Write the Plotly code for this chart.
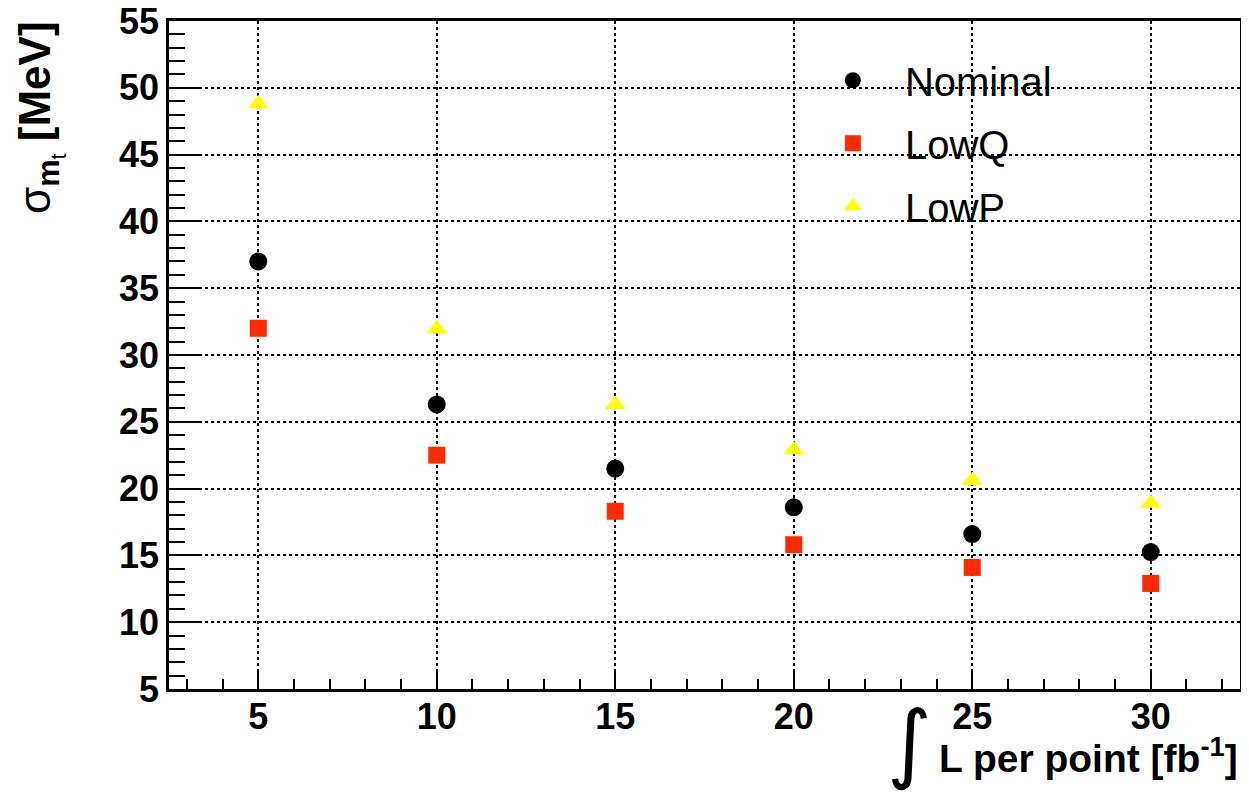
import plotly.graph_objects as go

lumi = [5, 10, 15, 20, 25, 30]
nominal = [37.0, 26.3, 21.5, 18.6, 16.6, 15.25]
lowq = [32.0, 22.5, 18.3, 15.8, 14.1, 12.9]
lowp = [48.8, 31.95, 26.3, 22.9, 20.6, 18.9]

x_ticks = [5, 10, 15, 20, 25, 30]
y_ticks = [5, 10, 15, 20, 25, 30, 35, 40, 45, 50, 55]

FONT = "Liberation Sans"

# page has an 8px body margin; compensate so the plot sits where the reference does
W, H = 1241, 791
ML, MR, MT, MB = 161, 9, 13, 110
PW = W - ML - MR
PH = H - MT - MB
OFF = 8


def px(xp):
    return (xp - OFF - ML) / PW


def py(yp):
    return 1 - (yp - OFF - MT) / PH


fig = go.Figure()
fig.add_trace(go.Scatter(x=lumi, y=nominal, mode="markers", name="Nominal",
                         legendgroup="a",
                         marker=dict(symbol="circle", size=18, color="black")))
fig.add_trace(go.Scatter(x=lumi, y=lowq, mode="markers", name="LowQ",
                         legendgroup="b",
                         marker=dict(symbol="square", size=17, color="#ff2a00")))
fig.add_trace(go.Scatter(x=lumi, y=lowp, mode="markers", name="LowP",
                         legendgroup="c",
                         marker=dict(symbol="triangle-up", size=18, color="#ffff00")))

axis_common = dict(
    showline=True, linecolor="black", linewidth=2.5, mirror=True,
    ticks="inside", tickcolor="black", tickwidth=2,
    showgrid=True, gridcolor="black", griddash="dot", gridwidth=1.5,
    zeroline=False, automargin=False, ticklabeloverflow="allow",
    tickfont=dict(family=FONT, size=36, color="black", weight="bold"),
)

fig.update_xaxes(range=[2.5, 32.5], tickvals=x_ticks, ticklen=20,
                 ticklabelstandoff=-6,
                 minor=dict(ticks="inside", ticklen=10, dtick=1, tick0=0,
                            tickcolor="black", tickwidth=2, showgrid=False),
                 **axis_common)
fig.update_yaxes(range=[5, 55], tickvals=y_ticks, ticklen=31,
                 minor=dict(ticks="inside", ticklen=16, dtick=1, tick0=0,
                            tickcolor="black", tickwidth=2, showgrid=False),
                 **axis_common)

fig.update_layout(
    width=W, height=H,
    margin=dict(l=ML, r=MR, t=MT, b=MB),
    plot_bgcolor="white", paper_bgcolor="white",
    showlegend=True,
    legend=dict(x=0.59, y=0.96, xanchor="left", yanchor="top",
                bgcolor="rgba(255,255,255,0)", borderwidth=0,
                font=dict(family=FONT, size=40, color="black"),
                traceorder="grouped", tracegroupgap=8,
                itemsizing="trace", itemwidth=94),
    annotations=[
        dict(text="<b>L per point [fb<sup>-1</sup>]</b>", xref="paper", yref="paper",
             x=px(1240), y=py(755), xanchor="right", yanchor="middle", showarrow=False,
             font=dict(family=FONT, size=39, color="black")),
        dict(text="∫", xref="paper", yref="paper",
             x=px(909), y=py(742), xanchor="center", yanchor="middle",
             showarrow=False, font=dict(family="DejaVu Sans", size=86, color="black")),
        dict(text="σ<sub><b>m</b><sub>t</sub></sub> <b>[MeV]</b>", xref="paper", yref="paper",
             x=px(40), y=py(118), xanchor="center", yanchor="middle",
             textangle=-90, showarrow=False,
             font=dict(family=FONT, size=44, color="black")),
    ],
)

fig.write_html("out.html")
